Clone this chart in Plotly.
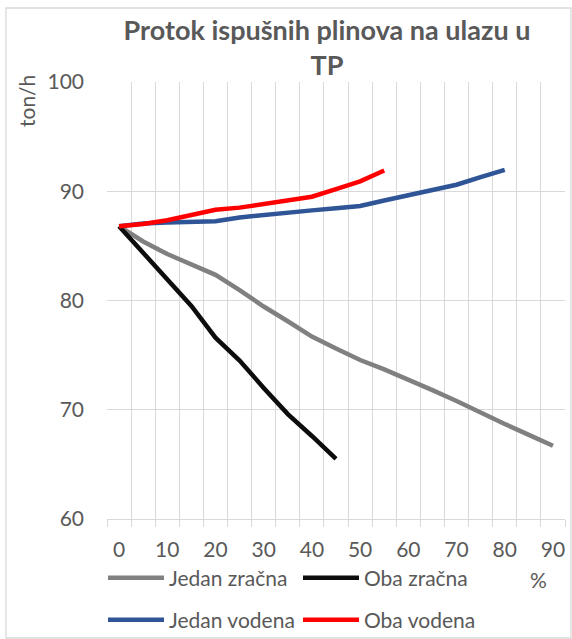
import plotly.graph_objects as go

# ---- data ----
x_pct = [0, 5, 10, 15, 20, 25, 30, 35, 40, 45, 50, 55, 60, 65, 70, 75, 80, 85, 90]
jedan_zracna = [86.8, 85.4, 84.25, 83.35, 82.35, 80.95, 79.45, 78.1, 76.7, 75.6,
                74.55, 73.7, 72.8, 71.8, 70.8, 69.7, 68.7, 67.7, 66.7]
oba_zracna = [86.8, 84.4, 82.0, 79.5, 76.6, 74.5, 72.0, 69.6, 67.6, 65.5]
jedan_vodena = [86.8, 87.05, 87.15, 87.2, 87.25, 87.6, 87.85, 88.05, 88.25, 88.45,
                88.65, 89.15, 89.65, 90.15, 90.6, 91.3, 91.95]
oba_vodena = [86.8, 87.0, 87.35, 87.85, 88.3, 88.5, 88.8, 89.15, 89.5, 90.2, 90.9, 91.9]

x_ticks = [0, 10, 20, 30, 40, 50, 60, 70, 80, 90]
y_ticks = [60, 70, 80, 90, 100]

title_text = "Protok ispušnih plinova na ulazu u<br>TP"
y_title = "ton/h"
x_title = "%"

FONT = "Lato"
TXT = "#595959"
GRID = "#d9d9d9"
FS = 21

fig = go.Figure()
series = [
    ("Jedan zračna", jedan_zracna, "#808080", "legend"),
    ("Oba zračna", oba_zracna, "#0d0d0d", "legend"),
    ("Jedan vodena", jedan_vodena, "#2f5597", "legend2"),
    ("Oba vodena", oba_vodena, "#ff0000", "legend2"),
]
for name, vals, col, lg in series:
    fig.add_trace(go.Scatter(
        x=x_pct[:len(vals)], y=vals, name=name, mode="lines",
        line=dict(color=col, width=4.5), legend=lg,
    ))

W, H = 572, 639
L, R, T, B = 107, 7, 82, 120
pw, ph = W - L - R, H - T - B

def px(xp):
    return (xp - L) / pw

def py(yp):
    return (H - B - yp) / ph

fig.update_layout(
    width=W, height=H,
    margin=dict(l=L, r=R, t=T, b=B, autoexpand=False),
    paper_bgcolor="white", plot_bgcolor="white",
    font=dict(family=FONT, color=TXT, size=FS),
    title=dict(text="<b>" + title_text + "</b>", xref="container", x=327 / W,
               xanchor="center", y=1 - 40 / H, yanchor="middle",
               font=dict(family=FONT, size=27, color=TXT)),
    showlegend=True,
    legend=dict(orientation="h", x=px(103), xanchor="left", y=py(578), yanchor="middle",
                entrywidth=124, itemwidth=56, font=dict(size=FS, color=TXT),
                bgcolor="rgba(0,0,0,0)"),
    legend2=dict(orientation="h", x=px(103), xanchor="left", y=py(620), yanchor="middle",
                 entrywidth=124, itemwidth=56, font=dict(size=FS, color=TXT),
                 bgcolor="rgba(0,0,0,0)"),
    xaxis=dict(
        range=[-2.5, 92.5], tickmode="array", tickvals=x_ticks,
        ticktext=[str(v) for v in x_ticks], showgrid=False, ticks="",
        ticklabelstandoff=12, tickfont=dict(size=FS, color=TXT),
        showline=True, linecolor=GRID, linewidth=1.3, zeroline=False,
        minor=dict(tickmode="array", tickvals=[v - 2.5 for v in x_pct] + [92.5],
                   showgrid=True, gridcolor=GRID, gridwidth=1.3,
                   ticks="outside", ticklen=7, tickcolor=GRID, tickwidth=1.3),
    ),
    yaxis=dict(
        range=[60, 100], tickmode="array", tickvals=y_ticks,
        showgrid=True, gridcolor=GRID, gridwidth=1.3, zeroline=False,
        ticklabelstandoff=22, tickfont=dict(size=FS, color=TXT), showline=False,
    ),
    annotations=[
        dict(text=y_title, xref="paper", yref="paper", x=px(27), y=py(73),
             xanchor="center", yanchor="top", textangle=-90, showarrow=False,
             font=dict(size=FS, color=TXT)),
        dict(text=x_title, xref="paper", yref="paper", x=px(538), y=py(579),
             xanchor="center", yanchor="middle", showarrow=False,
             font=dict(size=FS, color=TXT)),
    ],
    shapes=[
        dict(type="rect", xref="paper", yref="paper", x0=px(6), x1=px(571),
             y0=py(638), y1=py(8), line=dict(color=GRID, width=1.3),
             fillcolor="rgba(0,0,0,0)", layer="below"),
    ],
)

fig.write_html("out.html", config={"displayModeBar": False},
               post_script="document.body.style.margin='0';document.body.style.overflow='hidden';")
